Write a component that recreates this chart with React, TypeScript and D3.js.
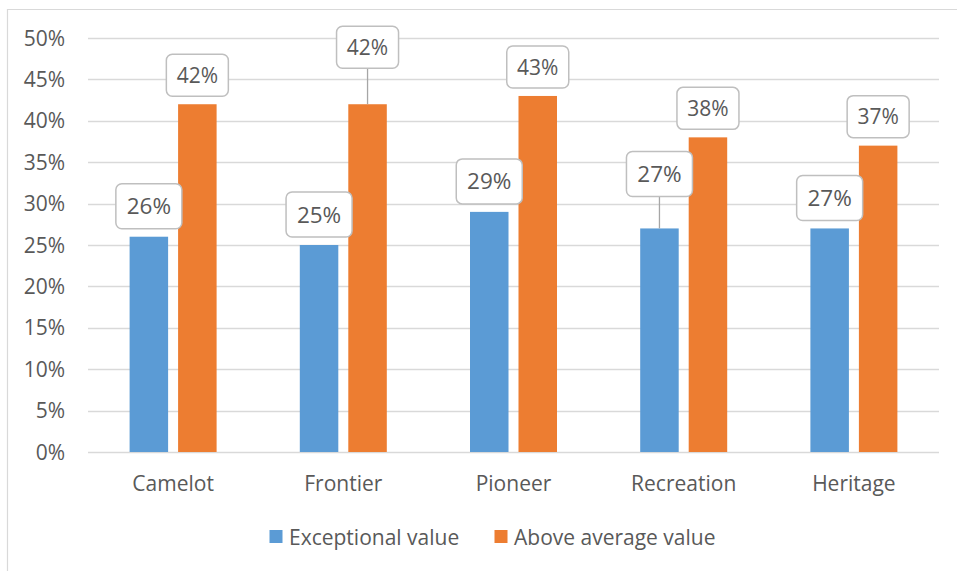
import React from 'react';
import * as d3 from 'd3';

const categories = ['Camelot', 'Frontier', 'Pioneer', 'Recreation', 'Heritage'];
const seriesNames = ['Exceptional value', 'Above average value'];
const exceptional = [0.26, 0.25, 0.29, 0.27, 0.27];
const aboveAverage = [0.42, 0.42, 0.43, 0.38, 0.37];
const yTicks = [0, 0.05, 0.1, 0.15, 0.2, 0.25, 0.3, 0.35, 0.4, 0.45, 0.5];

const seriesValues = [exceptional, aboveAverage];
const colors = ['#5B9BD5', '#ED7D31'];
// extra lift (px) for labels that were dragged up with a leader line: [series][category]
const labelLift = [
  [0, 0, 0, 24, 0],
  [0, 28, 0, 0, 0],
];
const boxSize = [
  { w: 66, h: 45, fs: 22.5 },
  { w: 62, h: 42, fs: 21 },
];

const W = 957;
const H = 571;
const FONT = '"Open Sans", "Noto Sans", sans-serif';
const TXT = '#595959';
const FS = 21;

export default function App() {
  const y = d3.scaleLinear().domain([0, 0.5]).range([452, 38]);
  const x0 = d3.scaleBand<string>().domain(categories).range([88, 939]).padding(0);
  const groupW = 87;
  const x1 = d3.scaleBand<string>().domain(seriesNames).range([0, groupW]).paddingInner(0.206).paddingOuter(0);
  const fmt = d3.format('.0%');

  return (
    <svg width={W} height={H} style={{ position: 'absolute', left: 0, top: 0, background: '#fff' }} fontFamily={FONT}>
      <rect x={0} y={0} width={W} height={H} fill="#fff" />
      {/* chart frame */}
      <path d={`M7.5,${H} V9.5 H${W}`} fill="none" stroke="#d9d9d9" strokeWidth={1.2} />
      {/* gridlines */}
      {yTicks.map((t) => (
        <line key={t} x1={88} x2={939} y1={Math.round(y(t)) + 0.5} y2={Math.round(y(t)) + 0.5} stroke="#d9d9d9" strokeWidth={1.3} />
      ))}
      {/* y tick labels */}
      {yTicks.map((t) => (
        <text key={'l' + t} x={65} y={y(t)} dy="0.36em" textAnchor="end" fontSize={FS} fill={TXT}>
          {fmt(t)}
        </text>
      ))}
      {/* bars */}
      {categories.map((c, ci) => {
        const gx = (x0(c) as number) + x0.bandwidth() / 2 - groupW / 2;
        return (
          <g key={c}>
            {seriesNames.map((s, si) => {
              const v = seriesValues[si][ci];
              const bx = gx + (x1(s) as number);
              return (
                <rect key={s} x={bx} y={y(v)} width={x1.bandwidth()} height={y(0) - y(v)} fill={colors[si]} />
              );
            })}
          </g>
        );
      })}
      {/* data labels */}
      {categories.map((c, ci) => {
        const gx = (x0(c) as number) + x0.bandwidth() / 2 - groupW / 2;
        return (
          <g key={'dl' + c}>
            {seriesNames.map((s, si) => {
              const v = seriesValues[si][ci];
              const cx = gx + (x1(s) as number) + x1.bandwidth() / 2;
              const b = boxSize[si];
              const lift = labelLift[si][ci];
              const bottom = y(v) - 8 - lift;
              const top = bottom - b.h;
              return (
                <g key={s}>
                  {lift > 0 && (
                    <line x1={cx} x2={cx} y1={bottom} y2={y(v)} stroke="#a6a6a6" strokeWidth={1.3} />
                  )}
                  <rect x={cx - b.w / 2} y={top} width={b.w} height={b.h} rx={6} ry={6} fill="#fff" stroke="#bfbfbf" strokeWidth={1.5} />
                  <text x={cx} y={top + b.h / 2} dy="0.36em" textAnchor="middle" fontSize={b.fs} fill={TXT}>
                    {fmt(v)}
                  </text>
                </g>
              );
            })}
          </g>
        );
      })}
      {/* category labels */}
      {categories.map((c) => (
        <text key={'c' + c} x={(x0(c) as number) + x0.bandwidth() / 2} y={491} textAnchor="middle" fontSize={FS} fill={TXT}>
          {c}
        </text>
      ))}
      {/* legend */}
      <g>
        <rect x={269.5} y={530} width={13} height={13} fill={colors[0]} />
        <text x={289} y={537} dy="0.36em" fontSize={FS} fill={TXT}>{seriesNames[0]}</text>
        <rect x={494.5} y={530} width={13} height={13} fill={colors[1]} />
        <text x={514} y={537} dy="0.36em" fontSize={FS} fill={TXT}>{seriesNames[1]}</text>
      </g>
    </svg>
  );
}
